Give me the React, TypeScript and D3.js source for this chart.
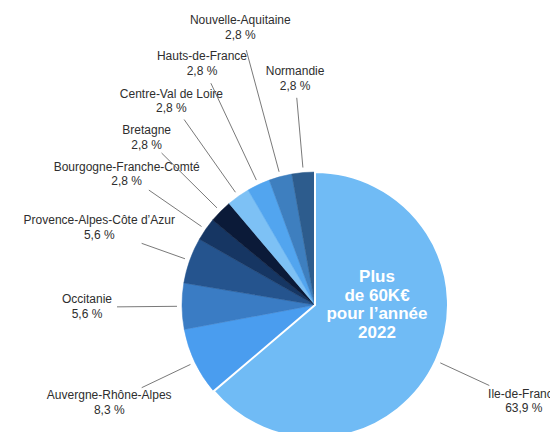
import React from "react";
import * as d3 from "d3";

const regions = [
  "Ile-de-France",
  "Auvergne-Rhône-Alpes",
  "Occitanie",
  "Provence-Alpes-Côte d’Azur",
  "Bourgogne-Franche-Comté",
  "Bretagne",
  "Centre-Val de Loire",
  "Hauts-de-France",
  "Nouvelle-Aquitaine",
  "Normandie",
];
const shares = [63.9, 8.3, 5.6, 5.6, 2.8, 2.8, 2.8, 2.8, 2.8, 2.8];
const shareLabels = ["63,9 %", "8,3 %", "5,6 %", "5,6 %", "2,8 %", "2,8 %", "2,8 %", "2,8 %", "2,8 %", "2,8 %"];
const centerText = ["Plus", "de 60K€", "pour l’année", "2022"];

// styling / layout (not data)
const colors = ["#70bbf5", "#4a9def", "#3a7cc4", "#25548e", "#163663", "#0b1a38", "#7dc1f5", "#52a5ef", "#3e7fbf", "#2d5c8d"];
const labelRadius = [230, 228, 228, 229, 229, 237, 249, 266, 287, 227];
const lineOuterRadius = [192, 192, 198, 184, 202, 216, 227, 245, 264, 208];

const W = 550;
const H = 432;
const cx = 315;
const cy = 305;
const R = 133;

export default function App() {
  const data = regions.map((name, i) => ({ name, value: shares[i], i }));
  const pie = d3
    .pie<any>()
    .sort(null)
    .value((d: any) => d.value)
    .startAngle(0)
    .endAngle(2 * Math.PI);
  const arcs = pie(data);
  const arc = d3.arc<any>().innerRadius(0).outerRadius(R);
  const polar = (a: number, r: number): [number, number] => [Math.sin(a) * r, -Math.cos(a) * r];

  return (
    <svg
      width={W}
      height={H}
      style={{ position: "absolute", left: 0, top: 0, background: "#fff" }}
      fontFamily="'Liberation Sans', Arial, Helvetica, sans-serif"
    >
      <g transform={`translate(${cx},${cy})`}>
        {arcs.map((a, i) =>
          i === 0 ? null : (
            <path key={i} d={arc(a) as string} fill={colors[i]} stroke={colors[i]} strokeWidth={0.5} />
          )
        )}
        <path d={arc(arcs[0]) as string} fill={colors[0]} stroke="#fff" strokeWidth={2} />
        {arcs.map((a, i) => {
          const mid = (a.startAngle + a.endAngle) / 2;
          const [x1, y1] = polar(mid, 138);
          const [x2, y2] = polar(mid, lineOuterRadius[i]);
          const [lx, ly] = polar(mid, labelRadius[i]);
          return (
            <g key={"l" + i}>
              <line x1={x1} y1={y1} x2={x2} y2={y2} stroke="#6a6a6a" strokeWidth={0.9} />
              <text x={lx} y={ly - 7} textAnchor="middle" dominantBaseline="middle" fontSize={12} fill="#2e2e2e">
                {regions[i]}
              </text>
              <text x={lx} y={ly + 7.5} textAnchor="middle" dominantBaseline="middle" fontSize={12} fill="#2e2e2e">
                {shareLabels[i]}
              </text>
            </g>
          );
        })}
        {centerText.map((t, k) => (
          <text
            key={"c" + k}
            x={62}
            y={-27 + k * 18.5}
            textAnchor="middle"
            dominantBaseline="middle"
            fontSize={17}
            fontWeight="bold"
            fill="#fff"
          >
            {t}
          </text>
        ))}
      </g>
    </svg>
  );
}
